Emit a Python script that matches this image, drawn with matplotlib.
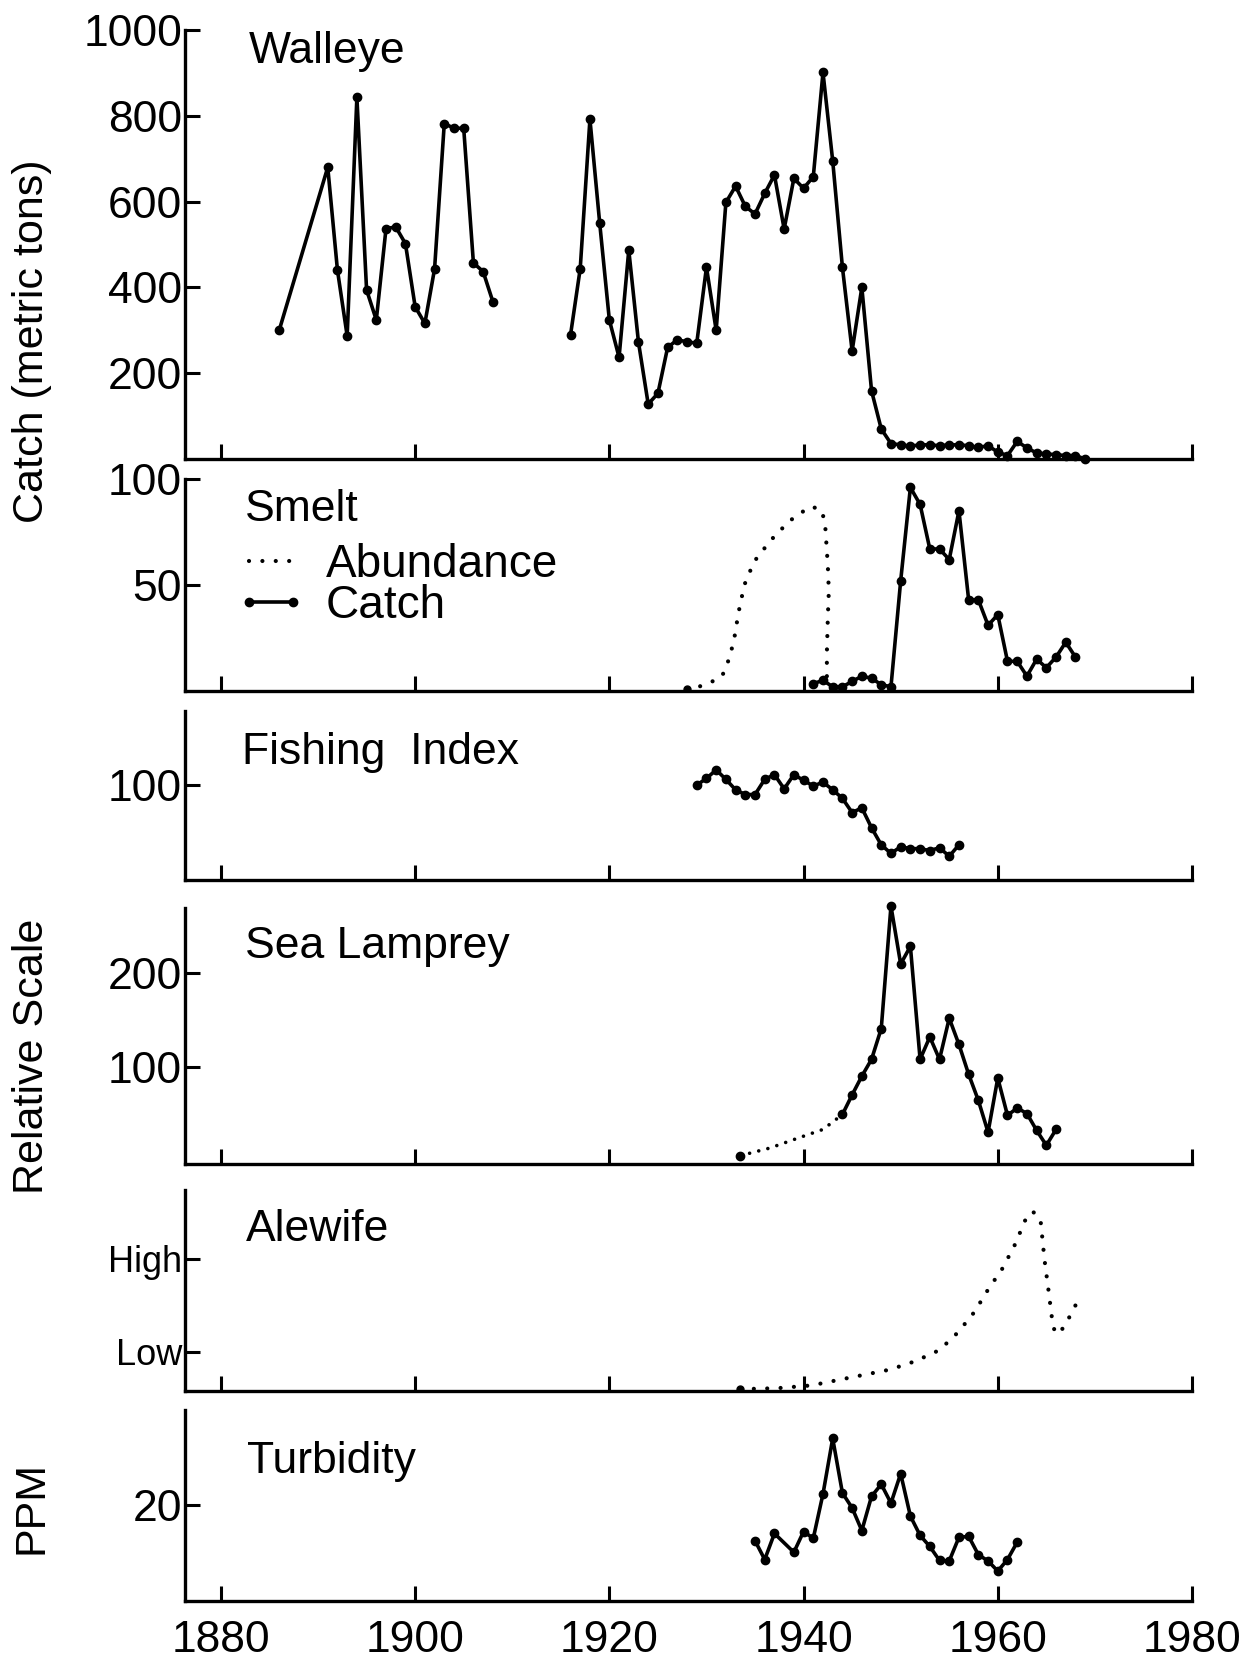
import matplotlib
matplotlib.use("Agg")
import matplotlib.pyplot as plt
from matplotlib.lines import Line2D

plt.rcParams['font.family'] = ['Liberation Sans', 'DejaVu Sans']

# ---- data ----
walleye_yrs_a = [1886] + list(range(1891, 1909))
walleye_a = [300, 680, 440, 287, 843, 394, 324, 537, 541, 502, 355, 316, 443,
             782, 771, 771, 457, 437, 367]
walleye_yrs_b = list(range(1916, 1970))
walleye_b = [289, 444, 792, 551, 324, 237, 487, 272, 128, 153, 260, 278, 273, 270,
             447, 300, 598, 636, 589, 571, 619, 662, 536, 654, 631, 658, 901, 695,
             447, 252, 400, 159, 70, 36, 33, 30, 33, 33, 31, 33, 33, 31, 27, 31,
             16, 8, 41, 26, 14, 12, 10, 8, 8, 0]

smelt_ab_yrs = [1928, 1929.2, 1930.4, 1931.6, 1932.1, 1932.8, 1933.3, 1933.9, 1934.9,
                1936.6, 1938.5, 1939.7, 1940.8, 1941.8, 1942.2, 1942.5, 1942.6,
                1942.5, 1942.4, 1942.4]
smelt_ab = [1, 2, 4, 7, 12, 23, 37, 50, 61, 71, 80, 84, 87, 85.5, 80, 59, 47, 35, 18, 5]
smelt_yrs = list(range(1941, 1969))
smelt_catch = [3.5, 5, 2, 2, 4.5, 7, 6, 3, 2, 52, 96, 88, 67, 67, 62, 85, 43, 43,
               31, 36, 14, 14, 7, 15, 11, 16, 23, 16]

fish_yrs = list(range(1929, 1957))
fish_idx = [100, 107, 116, 106, 95, 90, 90, 106, 111, 96, 111, 105, 99, 103, 95, 86,
            71, 76, 55, 37, 28, 35, 33, 33, 31, 34, 25, 37]

lamprey_est_yrs = [1933.5, 1936.5, 1939.5, 1942, 1944]
lamprey_est = [5, 13, 24, 33, 49]
lamprey_yrs = list(range(1944, 1967))
lamprey = [49, 70, 90, 108, 141, 272, 210, 229, 108, 132, 108, 152, 124, 92, 64, 30,
           88, 48, 56, 50, 32, 16, 33]

# alewife on a Low=0 / High=1 scale
alewife_yrs = [1933.5, 1937.3, 1940.8, 1944.6, 1948.9, 1951.5, 1954.0, 1955.9, 1957.6,
               1959.0, 1960.5, 1961.8, 1962.8, 1963.6, 1964.4, 1964.8, 1965.2, 1965.7,
               1966.2, 1966.9, 1968.0]
alewife = [-0.40, -0.39, -0.36, -0.28, -0.19, -0.10, 0.02, 0.21, 0.43, 0.67, 0.90,
           1.16, 1.41, 1.51, 1.42, 1.0, 0.68, 0.26, 0.19, 0.28, 0.50]

turb_yrs = [1935, 1936, 1937, 1939, 1940, 1941, 1942, 1943, 1944, 1945, 1946, 1947,
            1948, 1949, 1950, 1951, 1952, 1953, 1954, 1955, 1956, 1957, 1958, 1959,
            1960, 1961, 1962]
turbidity = [12.5, 8.6, 14.0, 10.1, 14.4, 13.0, 22.2, 33.7, 22.4, 19.3, 14.6, 21.7,
             24.2, 20.3, 26.4, 17.6, 13.6, 11.3, 8.4, 8.3, 13.2, 13.4, 9.6, 8.3, 6.2,
             8.6, 12.2]

year_ticks = [1880, 1900, 1920, 1940, 1960, 1980]

# ---- layout (pixels of a 1258 x 1659 figure) ----
W, H = 1258, 1659
LEFT, RIGHT = 185, 1192
FS = 32

fig = plt.figure(figsize=(W / 100, H / 100), dpi=100)


def panel(top, bot, ylim, yticks, ylabels=None, lab_fs=FS):
    ax = fig.add_axes([LEFT / W, 1 - bot / H, (RIGHT - LEFT) / W, (bot - top) / H])
    ax.set_xlim(1876.3, 1980)
    ax.set_ylim(*ylim)
    for s in ['top', 'right']:
        ax.spines[s].set_visible(False)
    for s in ['left', 'bottom']:
        ax.spines[s].set_linewidth(2.4)
    ax.set_xticks(year_ticks)
    ax.set_yticks(yticks)
    if ylabels is not None:
        ax.set_yticklabels(ylabels)
    ax.tick_params(direction='in', length=11, width=2.2, labelsize=lab_fs, pad=2)
    ax.tick_params(axis='x', labelbottom=False, pad=14, labelsize=FS)
    return ax


solid = dict(color='black', lw=2.6, marker='o', markersize=6, clip_on=False)
dots_big = dict(color='black', lw=3.0, linestyle=(0, (0.01, 3.2)),
                dash_capstyle='round', solid_capstyle='round')

# Walleye
ax = panel(30, 459, (0, 1000), [200, 400, 600, 800, 1000])
ax.plot(walleye_yrs_a, walleye_a, **solid)
ax.plot(walleye_yrs_b, walleye_b, **solid)
ax.text(0.063, 0.997, 'Walleye', transform=ax.transAxes, fontsize=FS, va='top')

# Smelt
ax = panel(479, 691, (0, 100), [50, 100])
ax.plot(smelt_ab_yrs, smelt_ab, marker='o', markersize=5, markevery=[0], **dots_big)
ax.plot(smelt_yrs, smelt_catch, **solid)
ax.text(0.06, 0.953, 'Smelt', transform=ax.transAxes, fontsize=FS, va='top')
ax.legend([Line2D([], [], **dots_big),
           Line2D([], [], color='black', lw=2.6, marker='o', markersize=6)],
          ['Abundance', 'Catch'], numpoints=2,
          loc='upper left', bbox_to_anchor=(0.05, 0.70), frameon=False,
          fontsize=FS + 1, handlelength=1.55, handletextpad=0.42, labelspacing=-0.05,
          borderaxespad=0, borderpad=0)

# Fishing index
ax = panel(711, 880, (0, 178), [100])
ax.plot(fish_yrs, fish_idx, **solid)
ax.text(0.057, 0.875, 'Fishing  Index', transform=ax.transAxes, fontsize=FS, va='top')

# Sea lamprey
ax = panel(908, 1164, (-4, 270), [100, 200])
ax.plot(lamprey_est_yrs, lamprey_est, color='black', lw=2.6,
        linestyle=(0, (0.01, 2.6)), dash_capstyle='round',
        marker='o', markersize=6, markevery=[0])
ax.plot(lamprey_yrs, lamprey, **solid)
ax.text(0.06, 0.93, 'Sea Lamprey', transform=ax.transAxes, fontsize=FS, va='top')

# Alewife
ax = panel(1190, 1391, (-0.42, 1.74), [0, 1], ['Low', 'High'], lab_fs=26)
ax.plot(alewife_yrs, alewife, marker='o', markersize=5, markevery=[0], **dots_big)
ax.text(0.06, 0.906, 'Alewife', transform=ax.transAxes, fontsize=FS, va='top')

# Turbidity
ax = panel(1410, 1601, (0, 39.6), [20])
ax.plot(turb_yrs, turbidity, **solid)
ax.text(0.062, 0.84, 'Turbidity', transform=ax.transAxes, fontsize=FS, va='top')
ax.tick_params(axis='x', labelbottom=True)

# shared axis titles
fig.text(32 / W, 1 - 341 / H, 'Catch (metric tons)', rotation=90, fontsize=31,
         ha='center', va='center')
fig.text(32 / W, 1 - 1056 / H, 'Relative Scale', rotation=90, fontsize=31,
         ha='center', va='center')
fig.text(32 / W, 1 - 1508 / H, 'PPM', rotation=90, fontsize=31,
         ha='center', va='center')

fig.savefig('out.png', dpi=100, facecolor='white')
